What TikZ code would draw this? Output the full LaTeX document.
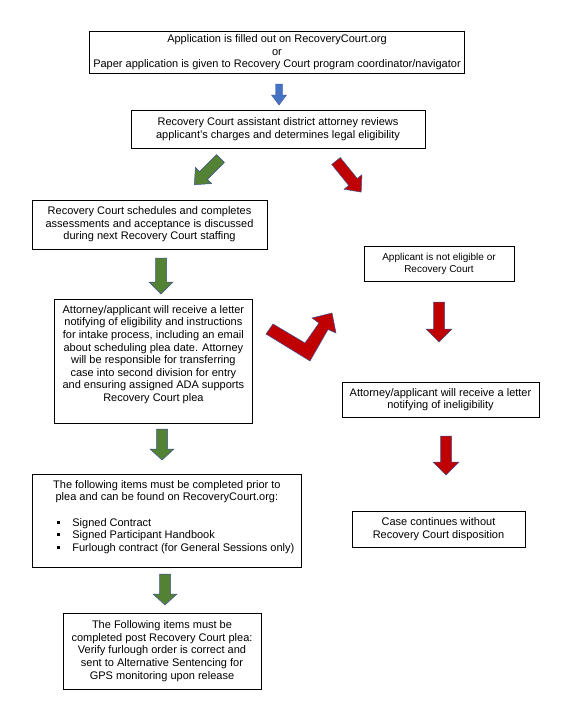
\documentclass[tikz,border=0pt]{standalone}
\usepackage{fontspec}
\setmainfont{Liberation Sans}
\definecolor{gfill}{HTML}{548235}
\definecolor{rfill}{HTML}{C00000}
\definecolor{bfill}{HTML}{4472C4}
\definecolor{aline}{RGB}{60,80,150}
\begin{document}
\begin{tikzpicture}[x=1pt,y=-1pt,
  box/.style={draw=black, line width=0.8pt, inner sep=0pt, align=center,
    font=\fontsize{11}{12.6}\selectfont},
  smallbox/.style={box, font=\fontsize{10}{12}\selectfont},
  garrow/.style={fill=gfill, draw=aline, line width=0.5pt},
  rarrow/.style={fill=rfill, draw=aline, line width=0.5pt},
  barrow/.style={fill=bfill, draw=aline, line width=0.4pt},
  pics/blockarrow/.style args={#1/#2/#3/#4}{code={
    \path[pic actions] (0,-#2) -- (#1-#4,-#2) -- (#1-#4,-#3) -- (#1,0)
      -- (#1-#4,#3) -- (#1-#4,#2) -- (0,#2) -- cycle;}}
]
\useasboundingbox (0,0) rectangle (560,725);

% boxes
\node[box, minimum width=375, minimum height=42] (apply) at (277,52.5)
  {Application is filled out on RecoveryCourt.org\\or\\Paper application is given to Recovery Court program coordinator/navigator};
\node[box, minimum width=294, minimum height=38] (ada) at (278,129)
  {Recovery Court assistant district attorney reviews\\applicant's charges and determines legal eligibility};
\node[box, minimum width=235, minimum height=49] (sched) at (149.5,224.5)
  {Recovery Court schedules and completes\\assessments and acceptance is discussed\\during next Recovery Court staffing};
\node[smallbox, minimum width=150, minimum height=35] (notelig) at (439,263.5)
  {Applicant is not eligible or\\Recovery Court};
\node[box, anchor=north west] (letter) at (54,299)
  {\parbox[c][124pt][t]{198pt}{\fontsize{11}{12.6}\selectfont\centering
   \vspace*{6pt}Attorney/applicant will receive a letter\\
   notifying of eligibility and instructions\\
   for intake process, including an email\\
   about scheduling plea date. Attorney\\
   will be responsible for transferring\\
   case into second division for entry\\
   and ensuring assigned ADA supports\\
   Recovery Court plea}};
\node[box, minimum width=197, minimum height=35] (inelig) at (440.5,399.5)
  {Attorney/applicant will receive a letter\\notifying of ineligibility};
\node[box, anchor=north west] (items) at (32,474)
  {\parbox[c][93pt][t]{269pt}{\fontsize{11}{12.6}\selectfont
   \vspace*{6pt}{\centering The following items must be completed prior to\\
   plea and can be found on RecoveryCourt.org:\par}
   \vspace{12.6pt}\raggedright
   \hspace*{24.5pt}\rule[2.5pt]{3pt}{3pt}\hspace{12.5pt}Signed Contract\\
   \hspace*{24.5pt}\rule[2.5pt]{3pt}{3pt}\hspace{12.5pt}Signed Participant Handbook\\
   \hspace*{24.5pt}\rule[2.5pt]{3pt}{3pt}\hspace{12.5pt}Furlough contract (for General Sessions only)}};
\node[box, minimum width=173, minimum height=36] (cont) at (438.5,529)
  {Case continues without\\Recovery Court disposition};
\node[box, minimum width=198, minimum height=76] (post) at (162,651)
  {The Following items must be\\completed post Recovery Court plea:\\Verify furlough order is correct and\\sent to Alternative Sentencing for\\GPS monitoring upon release};

% block arrows
\pic[barrow, rotate=-90] at (279,84) {blockarrow=21/3.5/7.5/10};
\pic[garrow, rotate=-135] at (220.5,158.5) {blockarrow=37/5.5/11.5/13};
\pic[rarrow, rotate=-51] at (336,161) {blockarrow=40/5.5/11.5/13};
\pic[garrow, rotate=-90] at (161,258) {blockarrow=36/5.5/12/12};
\pic[garrow, rotate=-90] at (162,429) {blockarrow=31/5.5/12/11};
\pic[garrow, rotate=-90] at (165,574) {blockarrow=31/5.5/12/11};
\pic[rarrow, rotate=-90] at (439,302) {blockarrow=40/5.5/13/13};
\pic[rarrow, rotate=-90] at (446,436) {blockarrow=39/5.5/13/13};
% bent arrow
\path[rarrow] (273,324) -- (266,334) -- (310,361) -- (328,329.5) -- (336,333)
  -- (332,313) -- (312,318) -- (319,323) -- (305,343) -- cycle;
\end{tikzpicture}
\end{document}
